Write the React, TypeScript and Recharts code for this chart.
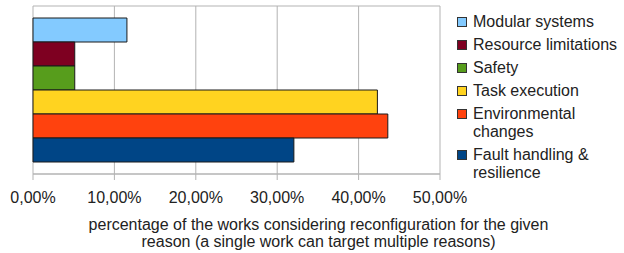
import React from 'react';
import {
  BarChart,
  Bar,
  XAxis,
  YAxis,
  CartesianGrid,
  Legend,
} from 'recharts';

// reasons, top to bottom as drawn (same order as the legend)
const reasonNames = [
  'Modular systems',
  'Resource limitations',
  'Safety',
  'Task execution',
  'Environmental changes',
  'Fault handling & resilience',
];
// percentage of the works for each reason
const reasonShares = [11.54, 5.13, 5.13, 42.31, 43.59, 32.05];
const reasonColors = ['#83caff', '#7e0021', '#579d1c', '#ffd320', '#ff420e', '#004586'];
const xTicks = [0, 10, 20, 30, 40, 50];

const FONT = "'Liberation Sans', Arial, sans-serif";
const GRID = '#b3b3b3';

const row: Record<string, string | number> = { name: 'reasons' };
reasonNames.forEach((n, i) => {
  row[`r${i}`] = reasonShares[i];
});
const chartData = [row];

const fmtPct = (v: number) => `${v.toFixed(2).replace('.', ',')}%`;

const AxisTitle = (props: any) => {
  const vb = props.viewBox || { x: 0, y: 0, width: 0 };
  const cx = vb.x + vb.width / 2 + 82;
  return (
    <text x={cx} y={vb.y + 56} textAnchor="middle" fontSize={16} fill="#222" fontFamily={FONT}>
      <tspan x={cx}>percentage of the works considering reconfiguration for the given</tspan>
      <tspan x={cx} dy={17}>reason (a single work can target multiple reasons)</tspan>
    </text>
  );
};

const LegendList = (props: any) => {
  // keep the legend in series order, not alphabetical
  const items = [...(props.payload || [])].sort(
    (a: any, b: any) => reasonNames.indexOf(a.value) - reasonNames.indexOf(b.value)
  );
  return (
    <div style={{ fontFamily: FONT, fontSize: 16, color: '#222' }}>
      {items.map((it: any) => (
        <div key={it.value} style={{ display: 'flex', alignItems: 'flex-start', marginBottom: 5, lineHeight: '18px' }}>
          <span
            style={{
              display: 'inline-block',
              width: 8,
              height: 8,
              marginTop: 4,
              marginRight: 6,
              background: it.color,
              border: '1px solid #333',
              flex: 'none',
            }}
          />
          <span style={{ width: 150 }}>{it.value}</span>
        </div>
      ))}
    </div>
  );
};

const App = () => {
  return (
    <div style={{ position: 'absolute', left: 0, top: 0, width: 624, height: 253, background: '#fff' }}>
      <BarChart
        width={624}
        height={253}
        data={chartData}
        layout="vertical"
        margin={{ top: 6, right: 184, bottom: 0, left: 27 }}
        barCategoryGap={12}
        barGap={0}
      >
        <CartesianGrid
          stroke={GRID}
          horizontalCoordinatesGenerator={({ offset }: any) => [offset.top, offset.top + offset.height]}
        />
        <XAxis
          type="number"
          domain={[0, 50]}
          ticks={xTicks}
          tickFormatter={fmtPct}
          stroke={GRID}
          tickSize={6}
          tickMargin={12}
          height={79}
          tick={{ fill: '#222', fontSize: 16, fontFamily: FONT }}
          label={<AxisTitle />}
        />
        <YAxis type="category" dataKey="name" hide />
        <YAxis
          yAxisId="edge"
          type="number"
          domain={[0, 1]}
          ticks={[0, 1]}
          tickFormatter={() => ''}
          axisLine={false}
          stroke={GRID}
          tickSize={6}
          width={6}
        />
        <Legend
          layout="vertical"
          align="center"
          verticalAlign="middle"
          content={<LegendList />}
          wrapperStyle={{ top: 13, left: 457, width: 165, height: 'auto' }}
        />
        {reasonNames.map((n, i) => (
          <Bar
            key={n}
            dataKey={`r${i}`}
            name={n}
            fill={reasonColors[i]}
            stroke="#1a1a1a"
            strokeWidth={1}
            isAnimationActive={false}
          />
        ))}
      </BarChart>
    </div>
  );
};

export default App;
